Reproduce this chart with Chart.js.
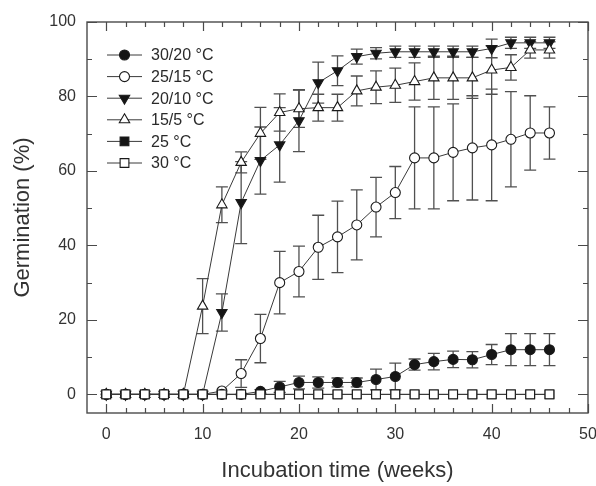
<!DOCTYPE html>
<html><head><meta charset="utf-8">
<script src="https://cdn.jsdelivr.net/npm/chart.js@4/dist/chart.umd.min.js"></script>
<style>html,body{margin:0;padding:0;background:#fff}canvas{display:block}</style>
</head><body>
<canvas id="c" width="596" height="486"></canvas>
<script>
const weeks = [0,2,4,6,8,10,12,14,16,18,20,22,24,26,28,30,32,34,36,38,40,42,44,46];
const labels = ['30/20 °C','25/15 °C','20/10 °C','15/5 °C','25 °C','30 °C'];
const g3020 = [0,0,0,0,0,0,0,0,0.8,2,3.2,3.2,3.2,3.2,4,4.8,8,8.8,9.4,9.3,10.7,12,12,12];
const e3020 = [0,0,0,0,0,0,0,0,0.5,1.5,1.7,1.5,1.2,1.2,2.8,3.6,1.5,2.2,2.2,2.2,2.7,4.3,4.3,4.3];
const g2515 = [0,0,0,0,0,0,0.9,5.6,15,30,33,39.5,42.3,45.5,50.3,54.2,63.5,63.5,65,66.2,67,68.5,70.2,70.2];
const e2515 = [0,0,0,0,0,0,0,3.7,6.5,8.4,6.8,8.6,9.6,9.4,8,7,13.7,13.7,13,14,15,12.8,10,7];
const g2010 = [0,0,0,0,0,0,22,51.5,62.8,67,73.5,83.7,86.9,90.7,91.6,92,92,92,92,92,92.9,94.4,94.4,94.4];
const e2010 = [0,0,0,0,0,0,5,11,9,10,8.3,5.5,4,2,1.5,1.5,1.5,1.5,1.5,1.5,2.5,1.5,1.5,1.5];
const g155 = [0,0,0,0,0,23.7,50.9,62.3,70.1,75.7,76.7,77,77,81.5,82.5,83,84,85,85,85,87.1,87.8,92.5,92.5];
const e155 = [0,0,0,0,0,7.4,4.8,2.8,7,5,5,3.6,3.6,4,4.4,4.6,5,5.8,5.8,5.5,6.5,3.4,2.2,2.2];
const g25 = [0,0,0,0,0,0,0,0,0,0,0,0,0,0,0,0,0,0,0,0,0,0,0,0];
const g30 = [0,0,0,0,0,0,0,0,0,0,0,0,0,0,0,0,0,0,0,0,0,0,0,0];
const xTicks = [0,10,20,30,40,50];
const yTicks = [0,20,40,60,80,100];
const xMinorStep = 2, yMinorStep = 10;

const pts = arr => weeks.map((w,i)=>({x:w,y:arr[i]}));
const BLACK = '#151515', LINE = '#3a3a3a';

function ds(label, data, errors, style, filled, order, extra) {
  return Object.assign({
    label, data: pts(data), errors,
    pointStyle: style, pointRadius: 5, pointHoverRadius: 5,
    backgroundColor: filled ? BLACK : '#fff',
    pointBackgroundColor: filled ? BLACK : '#fff',
    pointBorderColor: '#1a1a1a', pointBorderWidth: 1.1,
    borderColor: LINE, borderWidth: 1, tension: 0, order
  }, extra || {});
}

const datasets = [
  ds(labels[0], g3020, e3020, 'circle', true, 3),
  ds(labels[1], g2515, e2515, 'circle', false, 4),
  ds(labels[2], g2010, e2010, 'triangle', true, 2, {pointRadius: 6, pointRotation: 180}),
  ds(labels[3], g155, e155, 'triangle', false, 1, {pointRadius: 6}),
  ds(labels[4], g25, null, 'rect', true, 5, {pointRadius: 6.2}),
  ds(labels[5], g30, null, 'rect', false, 0, {pointRadius: 6.2})
];

const errorBars = {
  id: 'errorBars',
  beforeDatasetsDraw(chart) {
    const {ctx, scales: {x, y}} = chart;
    ctx.save();
    ctx.strokeStyle = '#505050';
    ctx.lineWidth = 1.3;
    chart.data.datasets.forEach(d => {
      if (!d.errors) return;
      d.data.forEach((p, i) => {
        const e = d.errors[i];
        if (!e) return;
        const px = x.getPixelForValue(p.x);
        const t = y.getPixelForValue(p.y + e), b = y.getPixelForValue(p.y - e);
        ctx.beginPath();
        ctx.moveTo(px, t); ctx.lineTo(px, b);
        ctx.moveTo(px - 6, t); ctx.lineTo(px + 6, t);
        ctx.moveTo(px - 6, b); ctx.lineTo(px + 6, b);
        ctx.stroke();
      });
    });
    ctx.restore();
  }
};

const frame = {
  id: 'frame',
  afterDraw(chart) {
    const {ctx, chartArea: a, scales: {x, y}} = chart;
    ctx.save();
    ctx.strokeStyle = '#4a4a4a';
    ctx.lineWidth = 1.4;
    ctx.strokeRect(a.left, a.top, a.right - a.left, a.bottom - a.top);
    ctx.lineWidth = 1.2;
    ctx.beginPath();
    for (let v = xTicks[0]; v <= xTicks[xTicks.length-1]; v += xMinorStep) {
      const len = xTicks.includes(v) ? 9 : 5;
      const px = Math.round(x.getPixelForValue(v)) + 0.5;
      ctx.moveTo(px, a.bottom); ctx.lineTo(px, a.bottom - len);
      ctx.moveTo(px, a.top); ctx.lineTo(px, a.top + len);
    }
    for (let v = yTicks[0]; v <= yTicks[yTicks.length-1]; v += yMinorStep) {
      const len = yTicks.includes(v) ? 10 : 5;
      const py = Math.round(y.getPixelForValue(v)) + 0.5;
      ctx.moveTo(a.left, py); ctx.lineTo(a.left + len, py);
      ctx.moveTo(a.right, py); ctx.lineTo(a.right - len, py);
    }
    ctx.stroke();

    // legend
    ctx.font = '16px "Liberation Sans", Arial, sans-serif';
    ctx.textBaseline = 'middle';
    chart.data.datasets.forEach((d, i) => {
      const cy = 55 + i * 21.6;
      ctx.strokeStyle = LINE; ctx.lineWidth = 1;
      ctx.beginPath(); ctx.moveTo(107, cy); ctx.lineTo(142, cy); ctx.stroke();
      ctx.fillStyle = d.pointBackgroundColor;
      ctx.strokeStyle = d.pointBorderColor;
      ctx.lineWidth = d.pointBorderWidth;
      Chart.helpers.drawPoint(ctx, {pointStyle: d.pointStyle, radius: d.pointRadius, rotation: d.pointRotation || 0, borderWidth: d.pointBorderWidth}, 124.5, cy);
      ctx.fillStyle = '#2a2a2a';
      ctx.fillText(d.label, 151, cy + 1);
    });
    ctx.restore();
  }
};

new Chart(document.getElementById('c'), {
  type: 'line',
  data: { datasets },
  plugins: [errorBars, frame],
  options: {
    responsive: false, animation: false, devicePixelRatio: 1,
    layout: { padding: { left: 0, right: 8, top: 22, bottom: 0 } },
    plugins: { legend: { display: false }, tooltip: { enabled: false } },
    scales: {
      x: {
        type: 'linear', min: -2, max: 50,
        grid: { display: false, drawTicks: false }, border: { display: false },
        afterBuildTicks: s => { s.ticks = xTicks.map(v => ({ value: v })); },
        afterFit: s => { s.height = 73; s.paddingLeft = 0; s.paddingRight = 0; },
        ticks: { color: '#333', font: { size: 16, family: '"Liberation Sans", Arial, sans-serif' }, padding: 12, maxRotation: 0 },
        title: { display: true, text: 'Incubation time (weeks)', color: '#333',
          font: { size: 22, family: '"Liberation Sans", Arial, sans-serif' }, padding: { top: 0, bottom: 2 } }
      },
      y: {
        min: -5, max: 100,
        grid: { display: false, drawTicks: false }, border: { display: false },
        afterBuildTicks: s => { s.ticks = yTicks.map(v => ({ value: v })); },
        afterFit: s => { s.width = 87; },
        ticks: { color: '#333', font: { size: 16, family: '"Liberation Sans", Arial, sans-serif' }, padding: 11 },
        title: { display: true, text: 'Germination (%)', color: '#333',
          font: { size: 22, family: '"Liberation Sans", Arial, sans-serif' }, padding: { top: 10, bottom: 0 } }
      }
    }
  }
});
</script>
</body></html>
